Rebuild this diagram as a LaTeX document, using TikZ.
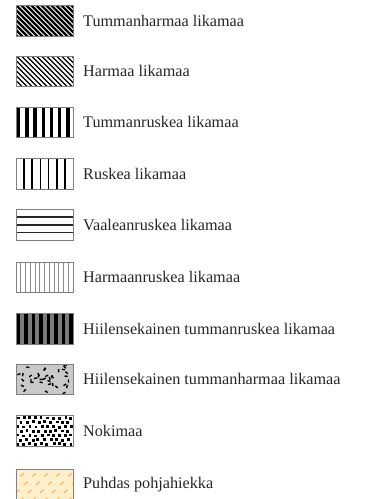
\documentclass[tikz,border=0pt]{standalone}
\usepackage{fontspec}
\setmainfont{Liberation Serif}
\definecolor{frm}{HTML}{7F7F7F}
\definecolor{txt}{HTML}{262626}
\definecolor{peach}{HTML}{FFEFCA}
\definecolor{dashorange}{HTML}{F2A35A}
\definecolor{darkfill}{HTML}{7A7A7A}
\definecolor{lightfill}{HTML}{C9C9C9}
\begin{document}
\begin{tikzpicture}[x=1pt,y=-1pt,
  frame/.style={draw=frm, line width=0.9pt, minimum width=57pt, minimum height=30.5pt,
    inner sep=0pt, outer sep=0pt, anchor=north west},
  lbl/.style={anchor=west, font=\fontsize{16.2}{18}\selectfont, text=txt, inner sep=0pt}]
\useasboundingbox (0,0) rectangle (371,499);
% ---------- 1 Tummanharmaa
\begin{scope}
\clip (16,5.5) rectangle ++(57,30.5);
\foreach \i in {-36,-31,...,60} \draw[line width=2.4pt] (16+\i,4) -- ++(34,34);
\end{scope}
\node[frame] (b1) at (16,5.5) {};
\node[lbl] (t1) at (83,20.75) {Tummanharmaa likamaa};
% ---------- 2 Harmaa
\begin{scope}
\clip (16,56) rectangle ++(57,30.5);
\foreach \i in {-36,-31,...,60} \draw[line width=1.1pt] (16+\i,54.5) -- ++(34,34);
\end{scope}
\node[frame] (b2) at (16,56) {};
\node[lbl] (t2) at (83,71.25) {Harmaa likamaa};
% ---------- 3 Tummanruskea
\foreach \k in {0,...,6} \fill (17+8.2*\k,107) rectangle ++(3.3,30.5);
\node[frame] (b3) at (16,107) {};
\node[lbl] (t3) at (83,122.25) {Tummanruskea likamaa};
% ---------- 4 Ruskea
\foreach \k in {1,...,6} \draw[line width=1.6pt] (16+8.14*\k,158.5) -- ++(0,30.5);
\node[frame] (b4) at (16,158.5) {};
\node[lbl] (t4) at (83,173.75) {Ruskea likamaa};
% ---------- 5 Vaaleanruskea
\foreach \k in {1,2,3} \draw[line width=1.6pt, black!85] (16,209.5+7.62*\k) -- ++(57,0);
\node[frame] (b5) at (16,209.5) {};
\node[lbl] (t5) at (83,224.75) {Vaaleanruskea likamaa};
% ---------- 6 Harmaanruskea
\foreach \k in {1,...,11} \draw[line width=0.8pt, black!45] (16+4.75*\k,262) -- ++(0,30.5);
\node[frame] (b6) at (16,262) {};
\node[lbl] (t6) at (83,277.25) {Harmaanruskea likamaa};
% ---------- 7 Hiilensekainen tummanruskea
\fill[darkfill] (16,313.5) rectangle ++(57,30.5);
\foreach \k in {0,...,7} \fill (16.7+7.5*\k,313.5) rectangle ++(3.3,30.5);
\node[frame] (b7) at (16,313.5) {};
\node[lbl] (t7) at (83,328.75) {Hiilensekainen tummanruskea likamaa};
% ---------- 8 Hiilensekainen tummanharmaa
\fill[lightfill] (16,364) rectangle ++(57,30.5);
\begin{scope}
\clip (16,364) rectangle ++(57,30.5);
\pgfmathsetseed{7}
\foreach \k in {1,...,36}{
  \pgfmathsetmacro\xx{44.5+27*rand}
  \pgfmathsetmacro\yy{379.25+14*rand}
  \pgfmathsetmacro\aa{90*rand}
  \draw[line width=1.4pt] (\xx,\yy) ++(\aa:-1.6) -- ++(\aa:3.2);
}
\end{scope}
\node[frame] (b8) at (16,364) {};
\node[lbl] (t8) at (83,379.25) {Hiilensekainen tummanharmaa likamaa};
% ---------- 9 Nokimaa
\begin{scope}
\clip (16,415.5) rectangle ++(57,30.5);
\pgfmathsetseed{11}
\foreach \r in {0,...,6}{
  \foreach \c in {0,...,9}{
    \pgfmathsetmacro\xx{16.5+5.9*\c+2.9*mod(\r,2)+0.9*rand}
    \pgfmathsetmacro\yy{416.5+4.4*\r+0.6*rand}
    \fill (\xx,\yy) rectangle ++(2.9,2.8);
  }
}
\end{scope}
\node[frame] (b9) at (16,415.5) {};
\node[lbl] (t9) at (83,430.75) {Nokimaa};
% ---------- 10 Puhdas pohjahiekka
\fill[peach] (16,469) rectangle ++(57,30.5);
\begin{scope}
\clip (16,469) rectangle ++(57,30.5);
\foreach \i in {-20,-8,...,70}
  \draw[dashorange, line width=1pt, dash pattern=on 4.5pt off 7pt] (16+\i,501) -- ++(36,-36);
\end{scope}
\node[frame] (b10) at (16,469) {};
\node[lbl] (t10) at (83,484.25) {Puhdas pohjahiekka};
\end{tikzpicture}
\end{document}
